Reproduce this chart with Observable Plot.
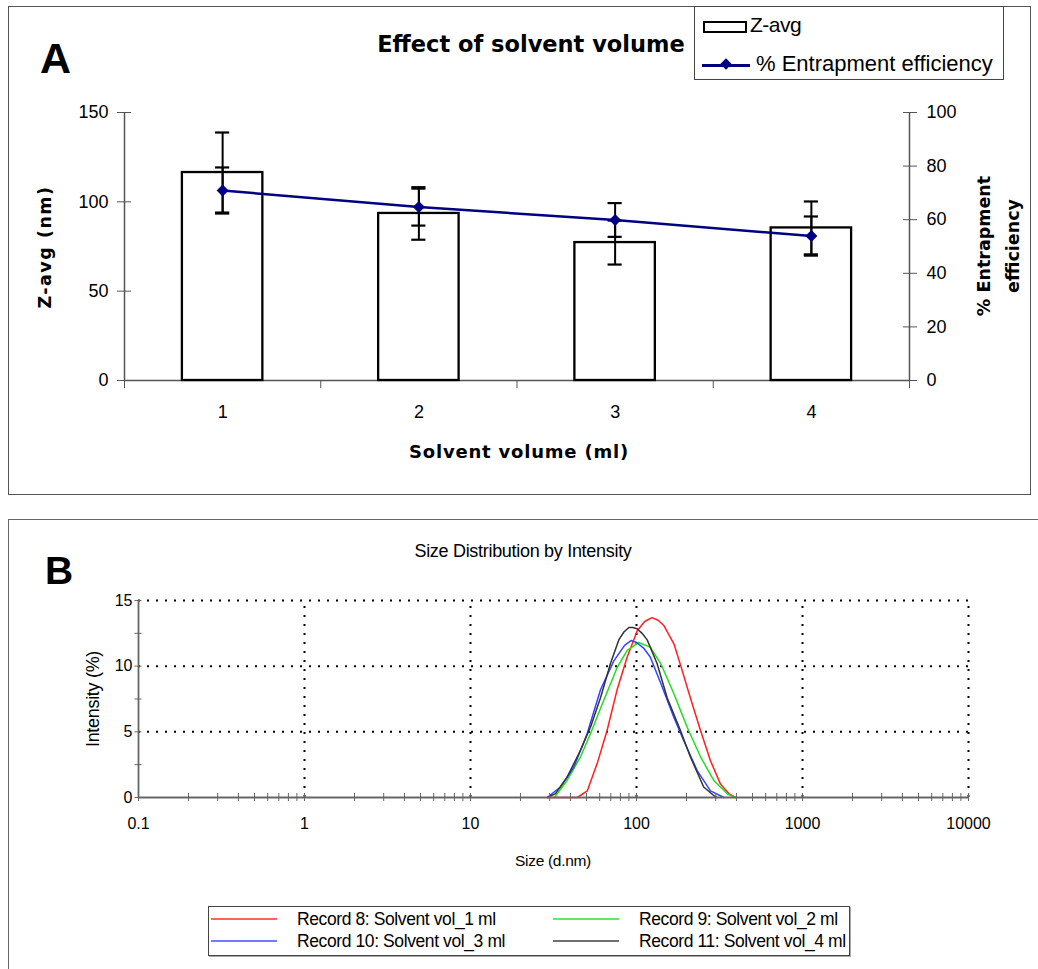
<!DOCTYPE html>
<html><head><meta charset="utf-8">
<script src="https://cdn.jsdelivr.net/npm/d3@7"></script>
<script src="https://cdn.jsdelivr.net/npm/@observablehq/plot@0.6"></script>
<style>
html,body{margin:0;padding:0;background:#fff;}
body{width:1038px;height:969px;position:relative;overflow:hidden;font-family:"Liberation Sans",Arial,sans-serif;color:#000;}
.abs{position:absolute;}
.c{transform:translate(-50%,-50%);white-space:nowrap;}
.bd{font-family:"DejaVu Sans",Verdana,sans-serif;font-weight:bold;}
.frameA{left:8px;top:6px;width:1023px;height:489px;border:1.5px solid #555;box-sizing:border-box;}
.frameB{left:8px;top:519px;width:1040px;height:470px;border:1.5px solid #666;box-sizing:border-box;}
svg{position:absolute;left:0;}
.legA{left:694px;top:6px;width:310px;height:74px;border:1.5px solid #444;box-sizing:border-box;background:#fff;}
.legB{left:208px;top:906px;width:642px;height:50px;border:1px solid #444;box-sizing:border-box;box-shadow:1px 1px 0 #aaa;background:#fff;}
.lt{font-size:17.5px;letter-spacing:-0.4px;white-space:nowrap;}
</style>
</head><body>
<div class="abs frameA"></div>
<div class="abs frameB"></div>
<div id="chartA"></div>
<div id="chartB"></div>

<div class="abs" style="left:40px;top:34px;font-size:43px;font-weight:bold;">A</div>
<div class="abs c bd" style="left:531px;top:44px;font-size:22.5px;">Effect of solvent volume</div>
<div class="abs c bd" style="left:45px;top:247px;font-size:17.5px;letter-spacing:1.5px;transform:translate(-50%,-50%) rotate(-90deg);">Z-avg (nm)</div>
<div class="abs c bd" style="left:519px;top:451px;font-size:18px;letter-spacing:0.8px;">Solvent volume (ml)</div>
<div class="abs c bd" style="left:999px;top:246px;font-size:17.5px;line-height:29px;text-align:center;transform:translate(-50%,-50%) rotate(-90deg);">% Entrapment<br>efficiency</div>

<div class="abs legA">
  <div class="abs" style="left:8px;top:14px;width:44px;height:12px;border:2px solid #000;box-sizing:border-box;"></div>
  <div class="abs" style="left:55px;top:6px;font-size:21px;letter-spacing:-0.5px;">Z-avg</div>
  <div class="abs" style="left:7px;top:57px;width:48px;height:2.5px;background:#000080;"></div>
  <div class="abs" style="left:27px;top:53px;width:8px;height:8px;background:#000080;transform:rotate(45deg);"></div>
  <div class="abs" style="left:61px;top:44px;font-size:22px;white-space:nowrap;">% Entrapment efficiency</div>
</div>

<div class="abs" style="left:45px;top:549px;font-size:39px;font-weight:bold;">B</div>
<div class="abs c" style="left:523px;top:551px;font-size:18px;letter-spacing:-0.3px;">Size Distribution by Intensity</div>
<div class="abs c" style="left:93px;top:699px;font-size:18px;letter-spacing:-0.3px;transform:translate(-50%,-50%) rotate(-90deg);">Intensity (%)</div>
<div class="abs c" style="left:553px;top:861px;font-size:15.5px;letter-spacing:-0.3px;">Size (d.nm)</div>

<div class="abs legB" id="legB"></div>

<script>
// ---------- Panel A data ----------
const volumes = [1, 2, 3, 4];
const zAvg = [116.4, 93.5, 77.2, 85.4];
const zAvgErr = [22.4, 14.7, 12.3, 14.8];
const entrapment = [70.9, 64.7, 59.9, 53.9];
const entrapmentErr = [8.6, 6.9, 6.3, 7.3];
const zTicks = [0, 50, 100, 150];
const eeTicks = [0, 20, 40, 60, 80, 100];
const volumeLabels = ["1", "2", "3", "4"];

// ---------- Panel B data ----------
const recordNames = ["Record 8: Solvent vol_1 ml", "Record 9: Solvent vol_2 ml", "Record 10: Solvent vol_3 ml", "Record 11: Solvent vol_4 ml"];
const recordColors = ["#ff1f1f", "#22dd22", "#3344ff", "#333333"];
const record8Size = [29, 44, 50.5, 58, 66.5, 76.4, 87.9, 101, 112, 124, 135, 146, 168, 184, 211, 243, 279, 321, 360, 395];
const record8Intensity = [0, 0, 0.5, 2.6, 5.1, 8.2, 10.7, 12.7, 13.4, 13.7, 13.5, 13.1, 11.7, 10.1, 7.6, 5.1, 2.8, 1.0, 0.3, 0];
const record9Size = [32, 38.2, 46, 52.8, 63.5, 76.5, 87.9, 103, 121, 140, 168, 202, 243, 292, 352, 392];
const record9Intensity = [0, 1.3, 3.1, 4.85, 7.4, 9.9, 11.2, 11.8, 11.45, 10.2, 7.9, 5.35, 3.1, 1.3, 0.28, 0];
const record10Size = [29, 34.8, 41.9, 50.4, 60.7, 73, 85, 92.8, 100, 110, 121, 140, 168, 193, 232, 279, 336];
const record10Intensity = [0, 0.8, 2.3, 4.85, 8.2, 10.4, 11.6, 11.95, 11.8, 11.4, 10.7, 8.7, 6.1, 4.3, 2.05, 0.5, 0];
const record11Size = [29, 32.5, 38.2, 46, 52.8, 60.7, 69.7, 78.2, 84, 89.9, 95, 101, 108, 116, 133, 153, 184, 211, 254, 292, 306];
const record11Intensity = [0, 0.3, 1.55, 3.6, 5.35, 7.6, 10.2, 12.0, 12.6, 12.95, 12.95, 12.85, 12.5, 12.0, 10.2, 7.6, 5.1, 3.1, 0.8, 0.15, 0];
const sizeTicks = [0.1, 1, 10, 100, 1000, 10000];
const sizeTickLabels = ["0.1", "1", "10", "100", "1000", "10000"];
const intensityTicks = [0, 5, 10, 15];
const intensityMinor = [0, 2.5, 5, 7.5, 10, 12.5, 15];

const font = '"Liberation Sans", Arial, sans-serif';

// ---------- Panel A ----------
const tableA = volumes.map((v, i) => ({v, z: zAvg[i], zErr: zAvgErr[i], ee: entrapment[i], eeErr: entrapmentErr[i]}));
const halfBar = 0.205, cap = 0.036;
const commonA = {width: 1038, height: 495, marginTop: 112, marginBottom: 115, marginLeft: 124, marginRight: 129,
  style: {fontFamily: font, background: "transparent", color: "#000", overflow: "visible"}};
const xA = {type: "linear", domain: [0.5, 4.5]};

const bars = Plot.plot({
  ...commonA,
  x: {...xA, label: null},
  y: {domain: [0, 150], label: null},
  marks: [
    Plot.ruleY([0], {stroke: "#555", strokeWidth: 1.5}),
    Plot.ruleX([0.5], {y1: 0, y2: 150, stroke: "#555", strokeWidth: 1.5}),
    Plot.rectY(tableA, {x1: d => d.v - halfBar, x2: d => d.v + halfBar, y1: 0, y2: "z", fill: "white", stroke: "#000", strokeWidth: 2.3}),
    Plot.ruleX(tableA, {x: "v", y1: d => d.z - d.zErr, y2: d => d.z + d.zErr, stroke: "#000", strokeWidth: 2}),
    Plot.ruleY(tableA, {y: d => d.z + d.zErr, x1: d => d.v - cap, x2: d => d.v + cap, stroke: "#000", strokeWidth: 2.2}),
    Plot.ruleY(tableA, {y: d => d.z - d.zErr, x1: d => d.v - cap, x2: d => d.v + cap, stroke: "#000", strokeWidth: 2.2}),
    Plot.axisY(zTicks, {anchor: "left", tickSize: 14, dx: 7, tickFormat: () => "", stroke: "#555", label: null}),
    Plot.axisY(zTicks, {anchor: "left", tickSize: 0, tickPadding: 16, fontSize: 18, label: null}),
    Plot.text(tableA, {x: "v", y: 0, text: (d, i) => volumeLabels[i], dy: 32, fontSize: 18}),
    Plot.axisX([0.5, 1.5, 2.5, 3.5, 4.5], {anchor: "bottom", tickSize: 8, tickFormat: () => "", stroke: "#555", label: null})
  ]
});
bars.style.top = "0px";
document.getElementById("chartA").append(bars);

const ee = Plot.plot({
  ...commonA,
  x: {...xA, axis: null},
  y: {domain: [0, 100], label: null},
  marks: [
    Plot.ruleX([4.5], {y1: 0, y2: 100, stroke: "#555", strokeWidth: 1.5}),
    Plot.axisY(eeTicks, {anchor: "right", tickSize: 14, dx: -7, tickFormat: () => "", stroke: "#555", label: null}),
    Plot.axisY(eeTicks, {anchor: "right", tickSize: 0, tickPadding: 17, fontSize: 18, label: null}),
    Plot.line(tableA, {x: "v", y: "ee", stroke: "#000080", strokeWidth: 2.5}),
    Plot.ruleX(tableA, {x: "v", y1: d => d.ee - d.eeErr, y2: d => d.ee + d.eeErr, stroke: "#000", strokeWidth: 2}),
    Plot.ruleY(tableA, {y: d => d.ee + d.eeErr, x1: d => d.v - cap, x2: d => d.v + cap, stroke: "#000", strokeWidth: 2.2}),
    Plot.ruleY(tableA, {y: d => d.ee - d.eeErr, x1: d => d.v - cap, x2: d => d.v + cap, stroke: "#000", strokeWidth: 2.2}),
    Plot.dot(tableA, {x: "v", y: "ee", symbol: "diamond2", r: 5.4, fill: "#000080", stroke: "none"})
  ]
});
ee.style.top = "0px";
document.getElementById("chartA").append(ee);

// ---------- Panel B ----------
const sizesB = [record8Size, record9Size, record10Size, record11Size];
const intsB = [record8Intensity, record9Intensity, record10Intensity, record11Intensity];
const tableB = recordNames.flatMap((name, k) => sizesB[k].map((s, i) => ({record: name, size: s, intensity: intsB[k][i]})));
const minorSize = [];
for (let e = -1; e < 4; e++) for (let m = 1; m <= 9; m++) minorSize.push(m * Math.pow(10, e));
minorSize.push(10000);

const grid = {stroke: "#000", strokeWidth: 2, strokeDasharray: "2,7"};
const chartB = Plot.plot({
  width: 1038, height: 380, marginTop: 80, marginBottom: 103, marginLeft: 138, marginRight: 70,
  style: {fontFamily: font, background: "transparent", color: "#000", overflow: "visible"},
  x: {type: "log", domain: [0.1, 10000], label: null},
  y: {domain: [0, 15], label: null},
  color: {domain: recordNames, range: recordColors},
  marks: [
    Plot.ruleY([5, 10, 15], {x1: 0.1, x2: 10000, ...grid}),
    Plot.ruleX([1, 10, 100, 1000, 10000], {y1: 0, y2: 15, ...grid}),
    Plot.line(tableB, {x: "size", y: "intensity", z: "record", stroke: "record", strokeWidth: 1.5}),
    Plot.ruleY([0], {stroke: "#666", strokeWidth: 1.8}),
    Plot.ruleX([0.1], {y1: 0, y2: 15, stroke: "#666", strokeWidth: 1.8}),
    Plot.axisX(minorSize, {anchor: "bottom", tickSize: 8, dy: -4, tickFormat: () => "", stroke: "#666", label: null}),
    Plot.text(sizeTicks, {x: d => d, y: 0, text: (d, i) => sizeTickLabels[i], dy: 26, fontSize: 16, letterSpacing: -0.3}),
    Plot.axisY(intensityMinor, {anchor: "left", tickSize: 7, dx: 3.5, tickFormat: () => "", stroke: "#666", label: null}),
    Plot.axisY(intensityTicks, {anchor: "left", tickSize: 0, tickPadding: 6, fontSize: 16, label: null})
  ]
});
chartB.style.top = "520px";
document.getElementById("chartB").append(chartB);

// ---------- Panel B legend ----------
const leg = document.getElementById("legB");
const pos = [[2, 12], [344, 12], [2, 34], [344, 34]];
recordNames.forEach((name, k) => {
  const [x, y] = pos[k];
  const ln = document.createElement("div");
  ln.className = "abs";
  ln.style.cssText = `left:${x}px;top:${y - 1}px;width:66px;height:2px;background:${recordColors[k]};opacity:0.7;`;
  leg.append(ln);
  const t = document.createElement("div");
  t.className = "abs lt";
  t.style.cssText += `left:${x + 86}px;top:${y - 10}px;`;
  t.textContent = name;
  leg.append(t);
});
</script>
</body></html>
